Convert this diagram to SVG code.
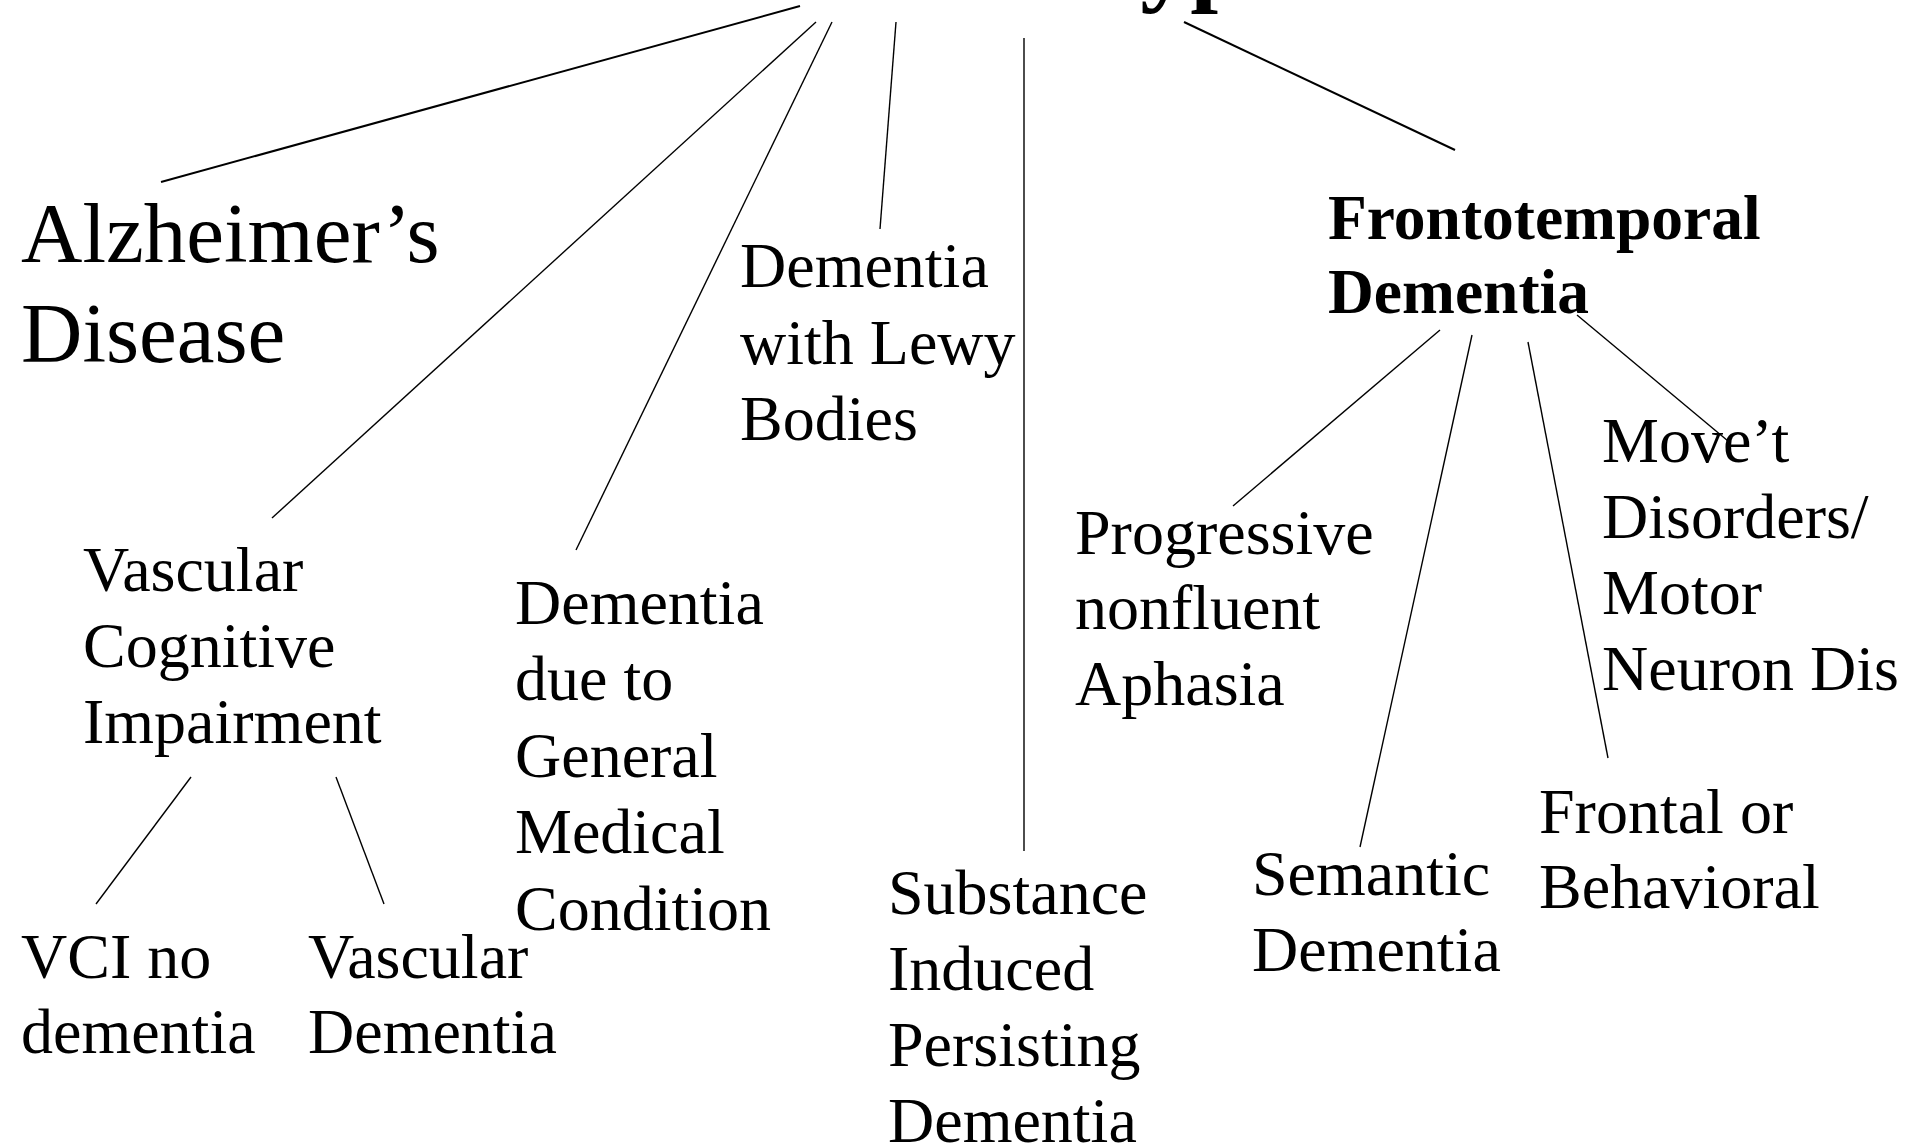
<svg xmlns="http://www.w3.org/2000/svg" width="1907" height="1146" viewBox="0 0 1907 1146">
<style>
text{font-family:"Liberation Serif","Times New Roman",serif;fill:#000}
.n{font-size:64px}
.big{font-size:85px}
.b{font-size:63.5px;font-weight:bold}
.t{font-size:100px;font-weight:bold}
#connectors line{stroke:#000;stroke-width:1.4;stroke-linecap:butt}
#connectors line.thick{stroke-width:2}
</style>
<rect width="1907" height="1146" fill="#fff"/>
<g id="title"><text class="t" x="504" y="-7">Dementia Subtypes</text></g>
<g id="connectors">
<line class="thick" x1="800" y1="6" x2="161" y2="182"/>
<line x1="816" y1="22" x2="272" y2="518"/>
<line x1="832" y1="22" x2="576" y2="550"/>
<line x1="896" y1="22" x2="880" y2="229"/>
<line x1="1024" y1="38" x2="1024" y2="851"/>
<line class="thick" x1="1184" y1="22" x2="1455" y2="150"/>
<line x1="1440" y1="330" x2="1233" y2="506"/>
<line x1="1472" y1="335" x2="1360" y2="847"/>
<line x1="1528" y1="342" x2="1608" y2="758"/>
<line x1="1577" y1="315" x2="1728" y2="441"/>
<line x1="191" y1="777" x2="96" y2="904"/>
<line x1="336" y1="777" x2="384" y2="904"/>
</g>
<g id="alzheimers"><text class="big" x="21" y="262">Alzheimer’s</text><text class="big" x="21" y="362">Disease</text></g>
<g id="vci"><text class="n" x="83" y="591">Vascular</text><text class="n" x="83" y="667">Cognitive</text><text class="n" x="83" y="743">Impairment</text></g>
<g id="vci-no-dementia"><text class="n" x="21" y="978">VCI no</text><text class="n" x="21" y="1053">dementia</text></g>
<g id="vascular-dementia"><text class="n" x="308" y="978">Vascular</text><text class="n" x="308" y="1053">Dementia</text></g>
<g id="gmc"><text class="n" x="515" y="624">Dementia</text><text class="n" x="515" y="700">due to</text><text class="n" x="515" y="777">General</text><text class="n" x="515" y="853">Medical</text><text class="n" x="515" y="930">Condition</text></g>
<g id="dlb"><text class="n" x="740" y="287">Dementia</text><text class="n" x="740" y="364">with Lewy</text><text class="n" x="740" y="440">Bodies</text></g>
<g id="substance"><text class="n" x="888" y="914">Substance</text><text class="n" x="888" y="990">Induced</text><text class="n" x="888" y="1066">Persisting</text><text class="n" x="888" y="1142">Dementia</text></g>
<g id="ftd"><text class="b" x="1328" y="239">Frontotemporal</text><text class="b" x="1328" y="313">Dementia</text></g>
<g id="pnfa"><text class="n" x="1075" y="554">Progressive</text><text class="n" x="1075" y="629">nonfluent</text><text class="n" x="1075" y="705">Aphasia</text></g>
<g id="semantic"><text class="n" x="1252" y="895">Semantic</text><text class="n" x="1252" y="971">Dementia</text></g>
<g id="frontal"><text class="n" x="1539" y="833">Frontal or</text><text class="n" x="1539" y="908">Behavioral</text></g>
<g id="motor"><text class="n" x="1602" y="462">Move’t</text><text class="n" x="1602" y="538">Disorders/</text><text class="n" x="1602" y="614">Motor</text><text class="n" x="1602" y="690">Neuron Dis</text></g>
</svg>
